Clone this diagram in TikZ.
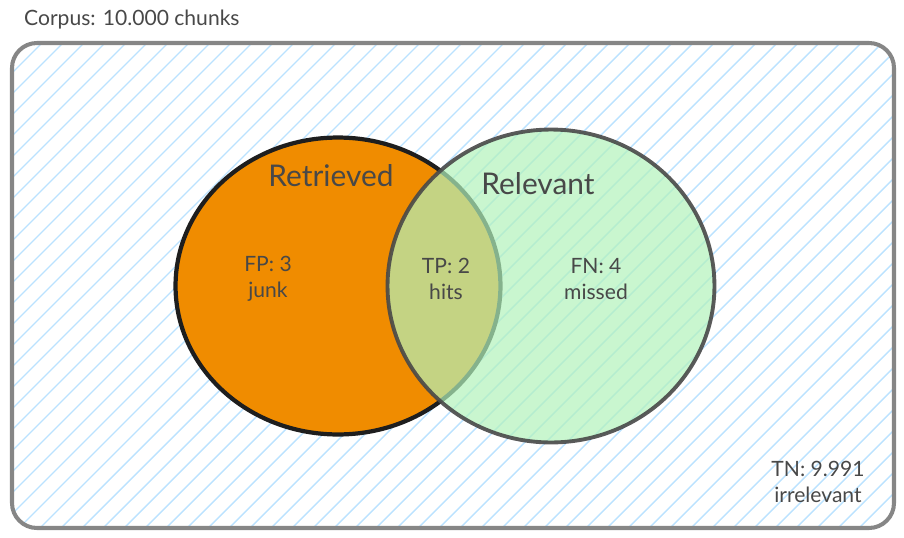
\documentclass[tikz,border=0pt]{standalone}
\usepackage{fontspec}
\setmainfont{Lato}
\usepackage{tikz}
\usetikzlibrary{
  positioning,
  shapes.geometric
}
\definecolor{hatchblue}{HTML}{A5D8FF}
\definecolor{framegray}{HTML}{868686}
\definecolor{retrorange}{HTML}{F08C00}
\definecolor{relvgreen}{HTML}{B2F2BB}
\definecolor{inkdark}{HTML}{1E1E1E}
\definecolor{inkgray}{HTML}{484848}
\tikzset{
  line cap=round,
  line join=round,
  hatchline/.style={hatchblue!75, line width=0.8pt},
  frame/.style={draw=framegray, line width=2.3pt, rounded corners=0.5cm},
  setcircle/.style={ellipse, inner sep=0pt, line width=2.4pt},
  title/.style={text=inkgray, font=\fontsize{17}{20}\selectfont},
  count/.style={text=inkgray, align=center, font=\fontsize{12}{14.5}\selectfont},
  note/.style={text=inkgray, font=\fontsize{12}{14}\selectfont}
}

\begin{document}
\begin{tikzpicture}[x=0.02cm, y=-0.02cm]
    \useasboundingbox (0,0) rectangle (904,538);

    % corpus frame with hatching
    \begin{scope}
        \clip[rounded corners=0.5cm] (12,43) rectangle (894,528);
        \foreach \i in {-560,-539,...,920}
            \draw[hatchline] (\i,540) -- ++(560,-560);
    \end{scope}
    \draw[frame] (12,43) rectangle (894,528);
    \node[note, anchor=west] (corpus) at (18,20) {Corpus: 10.000 chunks};

    % the two sets
    \node[setcircle, draw=inkdark, fill=retrorange,
          minimum width=6.5cm, minimum height=5.94cm] (retr) at (338,286) {};
    \node[setcircle, draw=inkgray, draw opacity=0.9, fill=relvgreen, fill opacity=0.7,
          line width=2.2pt, minimum width=6.54cm, minimum height=6.26cm] (relv) at (551,286) {};

    \node[title] (retrlabel) at (331,176) {Retrieved};
    \node[title] (relvlabel) at (538,184) {Relevant};

    \node[count] (fp) at (268,279) {FP: 3\\junk};
    \node[count] (tp) at (446,279) {TP: 2\\hits};
    \node[count] (fn) at (596,279) {FN: 4\\missed};
    \node[count] (tn) at (818,482) {TN: 9.991\\irrelevant};

\end{tikzpicture}
\end{document}
